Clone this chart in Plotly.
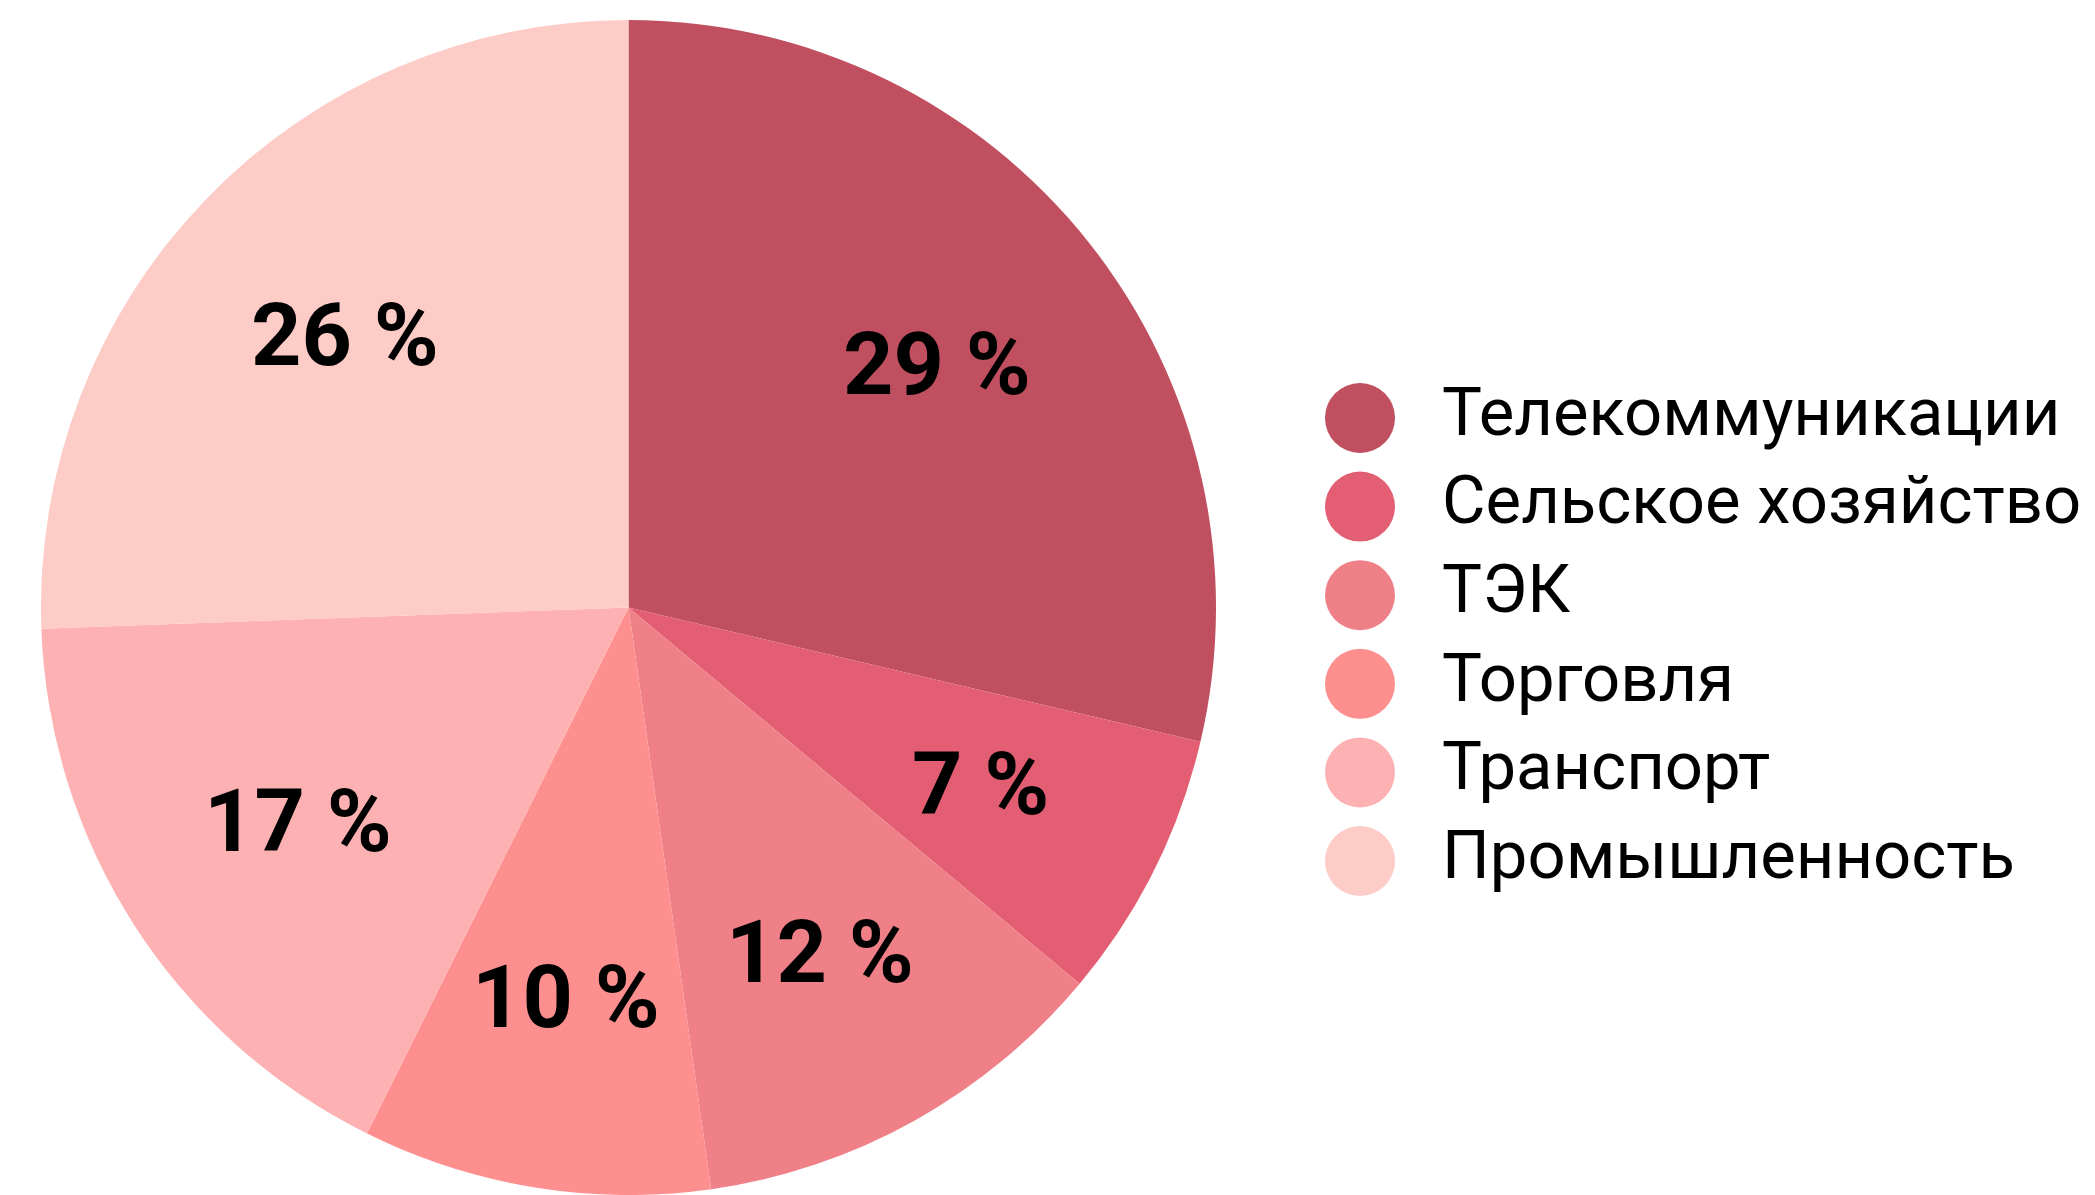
import math
import plotly.graph_objects as go

categories = ["Телекоммуникации", "Сельское хозяйство", "ТЭК", "Торговля", "Транспорт", "Промышленность"]
values = [28.7, 7.4, 11.7, 9.6, 17.1, 25.6]
colors = ["#C04F60", "#E35E73", "#F08088", "#FE8F8F", "#FDB1B3", "#FDCCC7"]

W, H = 2095, 1195
TOP = 20
PIE_DOMAIN_X = [0, 0.6]

fig = go.Figure()
fig.add_trace(go.Pie(
    labels=categories, values=values, sort=False, direction="clockwise", rotation=0,
    marker=dict(colors=colors, line=dict(width=0)),
    textinfo="none",
    showlegend=False, hoverinfo="label+percent",
    domain=dict(x=PIE_DOMAIN_X, y=[0, 1]),
))

# percentage labels placed at 2/3 of the radius, at the middle angle of each slice
plot_h = H - TOP
radius = min((PIE_DOMAIN_X[1] - PIE_DOMAIN_X[0]) * W, plot_h) / 2
cx = (PIE_DOMAIN_X[0] + PIE_DOMAIN_X[1]) / 2 * W
cy = TOP + plot_h / 2
total = sum(values)
cum = 0
for v in values:
    mid = (cum + v / 2) / total * 2 * math.pi
    cum += v
    px = cx + 0.67 * radius * math.sin(mid)
    py = cy - 0.67 * radius * math.cos(mid)
    fig.add_annotation(
        x=px / W, y=(H - py) / plot_h, xref="paper", yref="paper",
        text=f"{round(v / total * 100)} %", showarrow=False, xanchor="center", yanchor="middle",
        font=dict(family="Roboto", size=88, color="black", weight="bold"),
    )

# custom legend with circle markers
ys = [-i for i in range(len(categories))]
fig.add_trace(go.Scatter(
    x=[1360] * len(categories), y=ys, mode="markers",
    marker=dict(size=70, color=colors, line=dict(width=0)),
    showlegend=False, hoverinfo="skip",
))
fig.add_trace(go.Scatter(
    x=[1442] * len(categories), y=ys, mode="text", text=categories,
    textposition="middle right",
    textfont=dict(family="Roboto", size=67, color="black"),
    showlegend=False, hoverinfo="skip",
))

unit = 88.6
top_val = (418 - TOP) / unit
bottom_val = top_val - (H - TOP) / unit
fig.update_xaxes(range=[0, W], visible=False, fixedrange=True)
fig.update_yaxes(range=[bottom_val, top_val], visible=False, fixedrange=True)

fig.update_layout(
    width=W, height=H,
    margin=dict(l=0, r=0, t=TOP, b=0),
    paper_bgcolor="white", plot_bgcolor="rgba(0,0,0,0)",
    showlegend=False,
)
fig.write_html("out.html")
